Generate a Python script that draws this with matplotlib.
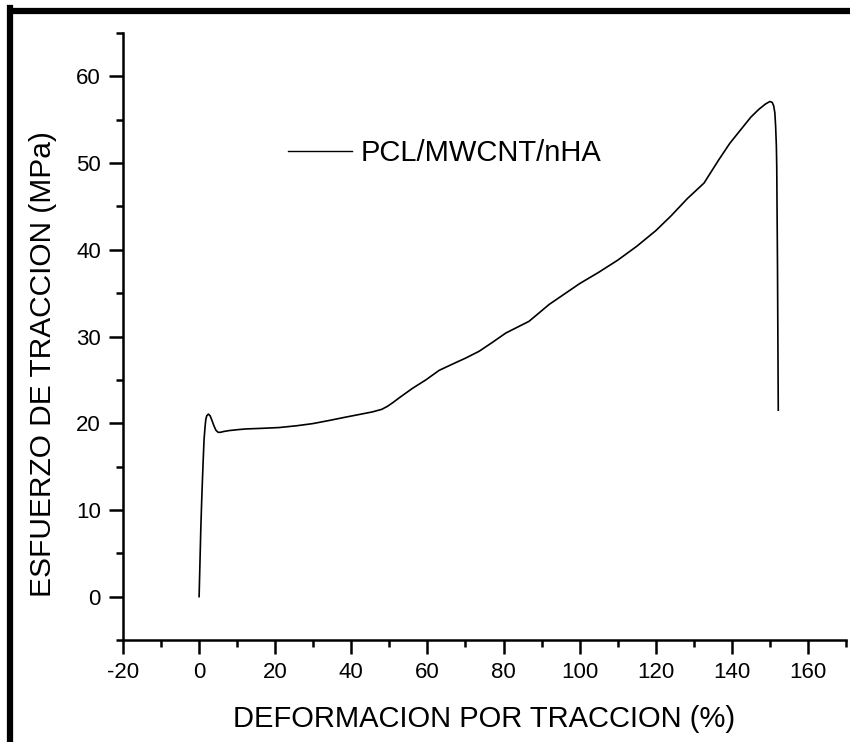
import matplotlib
matplotlib.use("Agg")
import matplotlib.pyplot as plt
from matplotlib.ticker import MultipleLocator
from matplotlib.lines import Line2D

plt.rcParams['font.family'] = ['Liberation Sans', 'DejaVu Sans']
plt.rcParams['axes.unicode_minus'] = False

# Tensile test: strain (%) vs stress (MPa)
strain = [0.0, 0.2, 0.44, 0.66, 0.88, 1.1, 1.3, 1.55, 1.75, 2.0, 2.45, 2.9, 3.4,
          3.9, 4.4, 5.0, 5.6, 6.5, 7.9, 10.0, 12.3, 16.0, 21.0, 25.5, 29.8, 34.0,
          38.5, 42.0, 45.5, 48.0, 49.5, 51.0, 52.5, 56.0, 59.6, 63.1, 67.0, 70.0,
          73.6, 77.0, 80.6, 86.7, 92.0, 96.0, 100.0, 105.0, 110.0, 115.0, 120.0,
          124.0, 128.3, 132.7, 136.6, 139.5, 142.8, 145.0, 147.1, 148.8, 150.0,
          150.6, 151.0, 151.3, 151.5, 151.7, 151.8, 152.0, 152.2]
stress = [0.0, 3.5, 7.7, 10.8, 13.5, 16.0, 18.1, 19.5, 20.4, 20.85, 21.05, 20.85,
          20.3, 19.7, 19.2, 18.95, 18.95, 19.05, 19.15, 19.25, 19.34, 19.4, 19.5,
          19.7, 19.95, 20.3, 20.7, 21.0, 21.3, 21.6, 21.95, 22.4, 22.9, 24.0, 25.0,
          26.1, 26.9, 27.5, 28.3, 29.3, 30.4, 31.75, 33.7, 34.9, 36.1, 37.4, 38.8,
          40.4, 42.2, 43.9, 45.9, 47.7, 50.4, 52.3, 54.1, 55.3, 56.2, 56.8, 57.1,
          57.0, 56.6, 55.8, 54.3, 52.0, 49.6, 38.0, 21.5]

series_label = "PCL/MWCNT/nHA"
x_label = "DEFORMACION POR TRACCION (%)"
y_label = "ESFUERZO DE TRACCION (MPa)"

fig = plt.figure(figsize=(8.5, 7.42), dpi=100)
ax = fig.add_axes([123 / 850, 1 - 640 / 742, (846 - 123) / 850, (640 - 33) / 742])

ax.plot(strain, stress, color='black', linewidth=1.2)

ax.set_xlim(-20, 170)
ax.set_ylim(-5, 65)
ax.xaxis.set_major_locator(MultipleLocator(20))
ax.xaxis.set_minor_locator(MultipleLocator(10))
ax.yaxis.set_major_locator(MultipleLocator(10))
ax.yaxis.set_minor_locator(MultipleLocator(5))

for side in ('top', 'right'):
    ax.spines[side].set_visible(False)
for side in ('left', 'bottom'):
    ax.spines[side].set_linewidth(1.8)

ax.tick_params(which='major', direction='out', length=10, width=1.8,
               labelsize=16, pad=6)
ax.tick_params(which='minor', direction='out', length=5, width=1.8)

ax.set_xlabel(x_label, fontsize=21, labelpad=16)
ax.set_ylabel(y_label, fontsize=21.5)
ax.yaxis.set_label_coords(-0.091, 0.455)

# Legend entry
handle = Line2D([], [], color='black', linewidth=1.0)
ax.legend([handle], [series_label], loc='center left',
          bbox_to_anchor=(165 / 723, 1 - 120 / 607), frameon=False, fontsize=21,
          handlelength=2.2, handletextpad=0.3, borderpad=0, borderaxespad=0)

# Thick black frame along top and left edges of the figure
fig.add_artist(Line2D([10 / 850, 10 / 850], [0, 1 - 8 / 742], transform=fig.transFigure,
                      color='black', linewidth=4.5, solid_capstyle='projecting'))
fig.add_artist(Line2D([10 / 850, 1], [1 - 11 / 742, 1 - 11 / 742], transform=fig.transFigure,
                      color='black', linewidth=4.5, solid_capstyle='butt'))

fig.savefig("out.png", dpi=100)
